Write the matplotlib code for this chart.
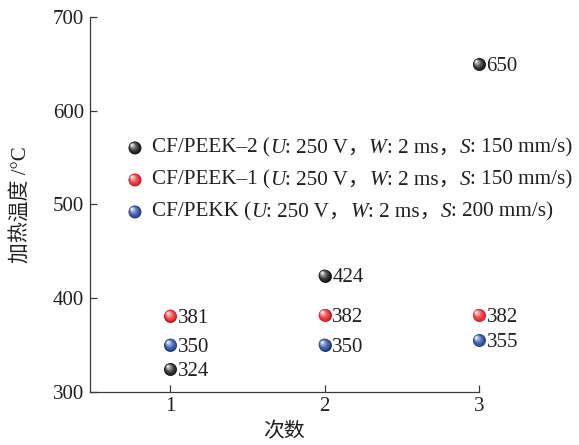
import numpy as np
import matplotlib
matplotlib.use("Agg")
import matplotlib.pyplot as plt
from matplotlib.colors import to_rgb
from matplotlib.transforms import offset_copy
from matplotlib.offsetbox import TextArea, HPacker, DrawingArea, AnnotationBbox
from matplotlib.patches import Circle

plt.rcParams["font.family"] = ["Liberation Serif", "Noto Sans CJK SC"]

# heating temperature for each run
runs = [1, 2, 3]
peek2 = [324, 424, 650]
peek1 = [381, 382, 382]
pekk = [350, 350, 355]

names = ["CF/PEEK–2", "CF/PEEK–1", "CF/PEKK"]
colors = ["#1c1c1c", "#e8262b", "#2a4a9e"]
voltage = ["250 V", "250 V", "250 V"]
width = ["2 ms", "2 ms", "2 ms"]
speed = ["150 mm/s", "150 mm/s", "200 mm/s"]
values = [peek2, peek1, pekk]

yticks = [300, 400, 500, 600, 700]
xticks = [1, 2, 3]

D = 9.3          # sphere diameter, points
FS = 15.0        # tick / value text size
LFS = 15.2       # legend text size
INK = "#231f20"


def sphere_layers(base, n=12):
    """Concentric shaded discs giving a glossy ball look."""
    base = np.array(to_rgb(base))
    out = []
    for i in range(n):
        t = i / (n - 1)
        frac = 1.0 - 0.86 * t
        off = 0.24 * t
        light = 0.92 * t ** 1.8
        c = base * (1 - light) + light
        if i == 0:
            c = base * 0.7
        out.append((frac, off, tuple(np.clip(c, 0, 1))))
    return out


fig = plt.figure(figsize=(5.79, 4.45), dpi=100)
ax = fig.add_axes([0.1546, 0.1202, 0.6727, 0.8405])

for vals, col in zip(values, colors):
    for k, (frac, off, c) in enumerate(sphere_layers(col)):
        tr = offset_copy(ax.transData, fig=fig, x=-off * D, y=off * D, units="points")
        ax.scatter(runs, vals, s=(D * frac) ** 2, color=c, linewidths=0,
                   transform=tr, zorder=3 + k * 0.01, clip_on=False)
    for x, v in zip(runs, vals):
        ax.annotate(str(v), (x, v), xytext=(5.4, -0.33 * FS), textcoords="offset points",
                    ha="left", va="baseline", fontsize=FS, color=INK, zorder=5)

ax.set_xlim(0.475, 3.0)
ax.set_ylim(300, 700)
ax.set_xticks(xticks)
ax.set_yticks(yticks)
for s in ("top", "right"):
    ax.spines[s].set_visible(False)
for s in ("left", "bottom"):
    ax.spines[s].set_linewidth(0.9)
    ax.spines[s].set_color("#3a3a3a")
ax.tick_params(direction="in", length=5, width=0.9, color="#3a3a3a",
               labelsize=FS, labelcolor=INK, pad=4)

ax.set_ylabel("加热温度 /°C", fontsize=15, color=INK)
ax.yaxis.set_label_coords(-0.151, 0.5)
ax.set_xlabel("次数", fontsize=15, color=INK)
ax.xaxis.set_label_coords(0.5, -0.085)

# legend rows: glossy ball + mixed upright/italic description
legend_y = [148, 180, 212]
W_px, H_px = 579, 445
for name, col, u, w, sp, py in zip(names, colors, voltage, width, speed, legend_y):
    da = DrawingArea(D + 7.5, D, 0, 0)
    for frac, off, c in sphere_layers(col):
        da.add_artist(Circle((D / 2 - off * D, D / 2 + off * D), D * frac / 2,
                             color=c, lw=0))
    up = dict(fontsize=LFS, color=INK)
    it = dict(fontsize=LFS, color=INK, fontstyle="italic")
    pieces = [
        TextArea(name + " (", textprops=up),
        TextArea("U", textprops=it),
        TextArea(": " + u + "，", textprops=up),
        TextArea("W", textprops=it),
        TextArea(": " + w + "，", textprops=up),
        TextArea("S", textprops=it),
        TextArea(": " + sp + ")", textprops=up),
    ]
    text = HPacker(children=pieces, align="baseline", pad=0, sep=0)
    row = HPacker(children=[da, text], align="center", pad=0, sep=0)
    ab = AnnotationBbox(row, ((135 - D / 2 / 72 * 100) / W_px, 1 - py / H_px),
                        xycoords="figure fraction", box_alignment=(0, 0.5),
                        frameon=False, pad=0)
    fig.add_artist(ab)

fig.savefig("out.png", dpi=100)
